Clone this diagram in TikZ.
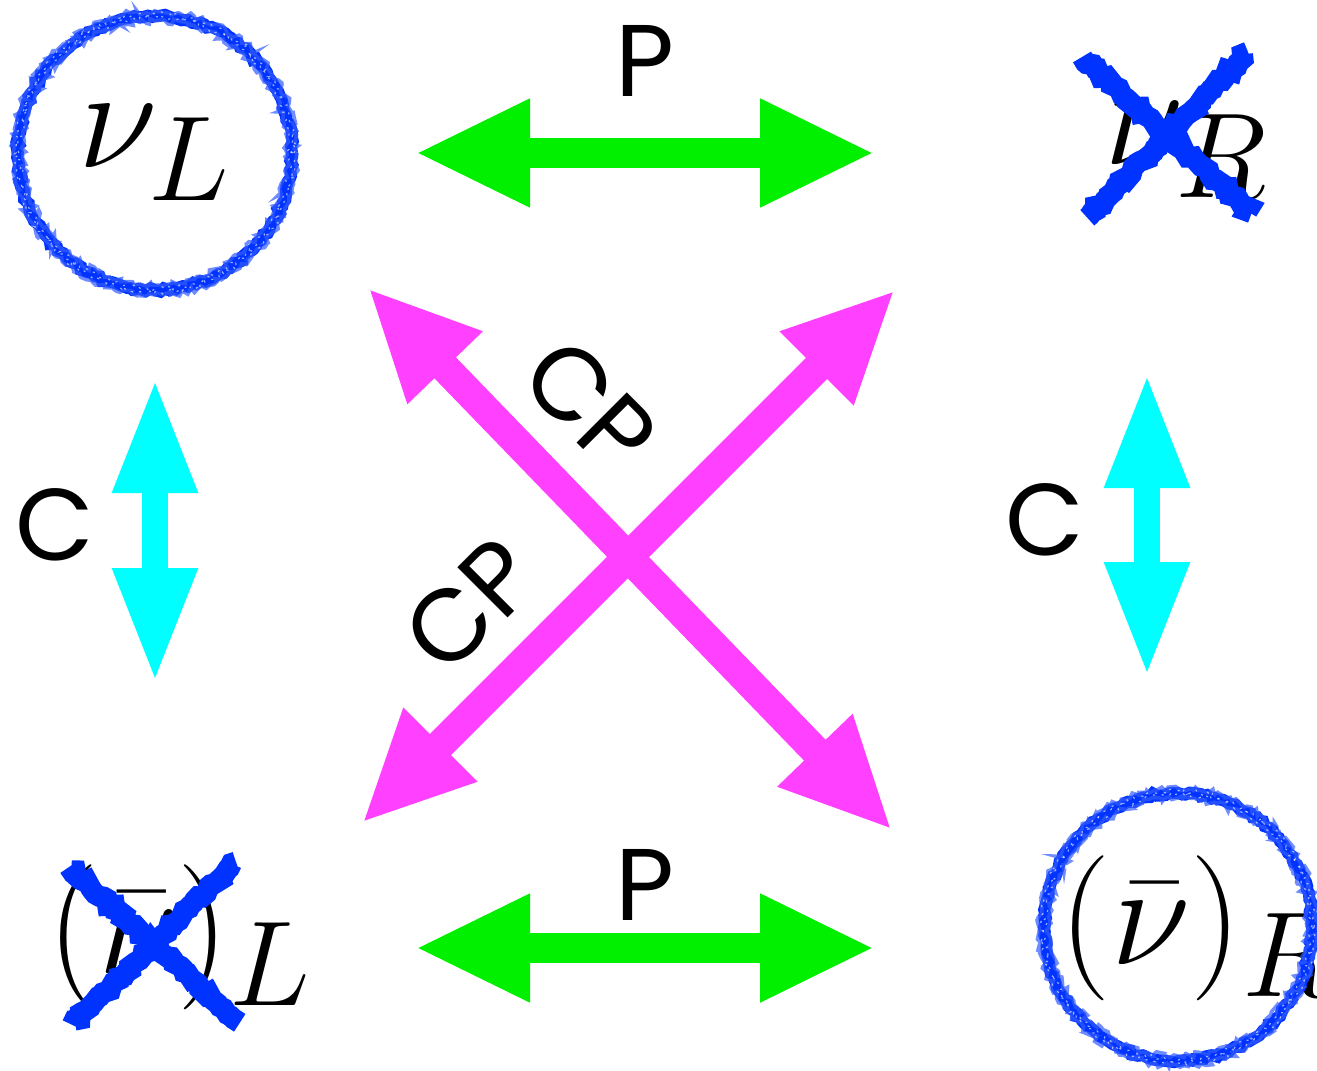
\documentclass[tikz,border=0pt]{standalone}
\usepackage{fontspec}
\newfontfamily\labelfont{Poppins}
\usetikzlibrary{arrows.meta, decorations.pathmorphing}
\definecolor{pgreen}{RGB}{0,240,0}
\definecolor{ccyan}{RGB}{0,255,255}
\definecolor{cpmag}{RGB}{255,64,255}
\definecolor{markblue}{RGB}{0,51,255}

\begin{document}
\begin{tikzpicture}[
  big/.style={font=\Huge, scale=1.66, transform shape, inner sep=0pt},
  lbl/.style={font=\labelfont\fontsize{29}{35}\selectfont, inner sep=0pt},
  pflip/.style={pgreen, line width=0.30cm, >={Triangle[length=1.15cm,width=1.0cm]}, <->},
  cflip/.style={ccyan, line width=0.26cm, >={Triangle[length=1.15cm,width=0.78cm]}, <->},
  cpflip/.style={cpmag, line width=0.30cm, >={Triangle[length=1.11cm,width=0.96cm]}, <->},
  crayon/.style={markblue, line width=0.12cm, decorate,
    decoration={random steps, segment length=1.2pt, amplitude=0.5pt}},
  crayonedge/.style={markblue!80, line width=0.035cm, opacity=0.7, decorate,
    decoration={random steps, segment length=1pt, amplitude=0.9pt}},
  grain/.style={white, line width=0.012cm, opacity=0.6, dash pattern=on 0.6pt off 2.2pt, decorate,
    decoration={random steps, segment length=0.8pt, amplitude=0.8pt}},
  strike/.style={markblue, line width=0.21cm, decorate,
    decoration={random steps, segment length=1.2pt, amplitude=0.7pt}}
]
  \useasboundingbox (0,0) rectangle (13.17,10.70);

  % the four states
  \node[big] (nuL)  at (1.55,9.17)  {$\nu_L$};
  \node[big] (nuR)  at (11.87,9.20) {$\nu_R$};
  \node[big] (barL) at (1.80,1.33)  {$(\bar\nu)_L$};
  \node[big] (barR) at (11.98,1.42) {$(\bar\nu)_R$};

  % allowed: circled
  \draw[crayon] (nuL.center) circle (1.37);
  \draw[crayonedge] (nuL.center) circle (1.42);
  \draw[crayonedge] (nuL.center) circle (1.32);
  \draw[grain] (nuL.center) circle (1.36);
  \draw[grain] (nuL.center) circle (1.39);
  \draw[crayon] (11.78,1.43) circle (1.34);
  \draw[crayonedge] (11.78,1.43) circle (1.39);
  \draw[crayonedge] (11.78,1.43) circle (1.29);
  \draw[grain] (11.78,1.43) circle (1.33);
  \draw[grain] (11.78,1.43) circle (1.36);

  % not allowed: crossed out
  \draw[strike] (10.82,10.13) -- (12.52,8.57);
  \draw[strike] (12.48,10.18) -- (10.87,8.52);
  \draw[strike] (0.69,2.03) -- (2.40,0.47);
  \draw[strike] (2.36,2.08) -- (0.72,0.45);

  % P
  \coordinate (ptl) at (4.15,9.17);
  \coordinate (ptr) at (8.75,9.17);
  \coordinate (pbl) at (4.15,1.22);
  \coordinate (pbr) at (8.75,1.22);
  \draw[pflip] (ptl) -- (ptr);
  \draw[pflip] (pbl) -- (pbr);
  \node[lbl] (ptop) at (6.45,10.09) {P};
  \node[lbl] (pbot) at (6.45,1.85)  {P};

  % C
  \coordinate (clt) at (1.55,6.92);
  \coordinate (clb) at (1.55,3.87);
  \coordinate (crt) at (11.47,6.97);
  \coordinate (crb) at (11.47,3.93);
  \draw[cflip] (clt) -- (clb);
  \draw[cflip] (crt) -- (crb);
  \node[lbl] (cleft)  at (0.55,5.45)  {C};
  \node[lbl] (cright) at (10.45,5.50) {C};

  % CP
  \coordinate (cpnw) at (3.68,7.82);
  \coordinate (cpse) at (8.92,2.40);
  \coordinate (cpne) at (8.95,7.80);
  \coordinate (cpsw) at (3.62,2.47);
  \draw[cpflip] (cpnw) -- (cpse);
  \draw[cpflip] (cpne) -- (cpsw);
  \node[lbl, rotate=-45] (cpup)  at (5.90,6.65) {CP};
  \node[lbl, rotate=45]  (cplow) at (4.70,4.65) {CP};
\end{tikzpicture}
\end{document}
